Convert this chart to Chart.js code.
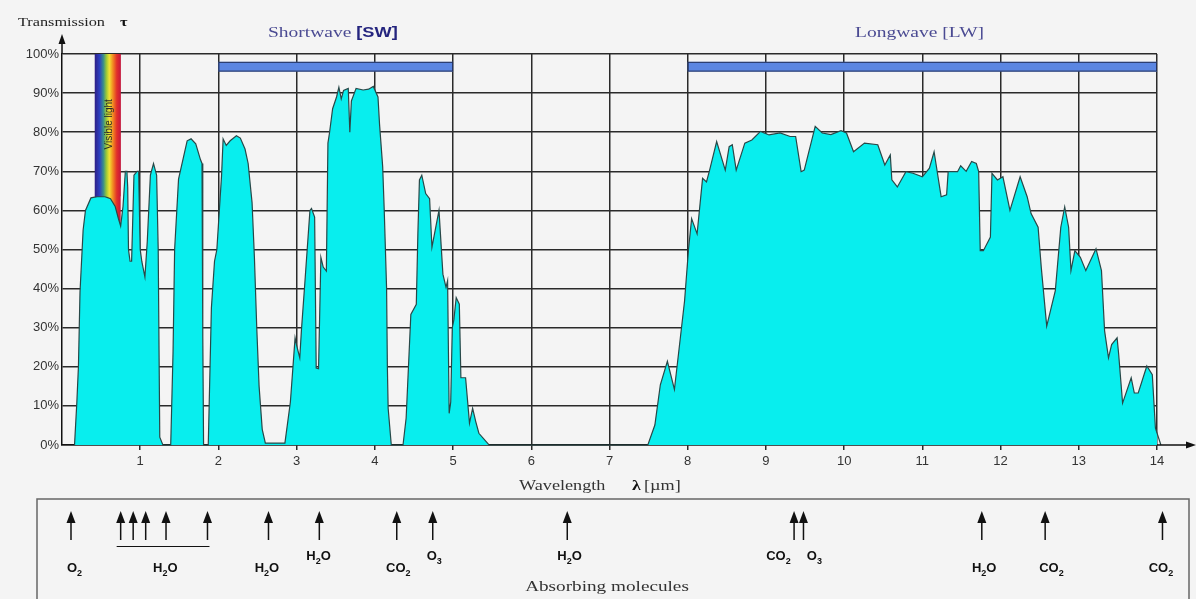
<!DOCTYPE html>
<html>
<head>
<meta charset="utf-8">
<script src="https://cdn.jsdelivr.net/npm/chart.js@4.4.1/dist/chart.umd.min.js"></script>
<style>
    html, body { margin: 0; padding: 0; background: #f4f4f4; }
    #wrap { width: 1196px; height: 599px; }
</style>
</head>
<body>
<div id="wrap"><canvas id="transChart" width="1196" height="599"></canvas></div>
<script>
// --- DADOS ---
const xTickValues = [1, 2, 3, 4, 5, 6, 7, 8, 9, 10, 11, 12, 13, 14];
const yTickValues = [0, 10, 20, 30, 40, 50, 60, 70, 80, 90, 100];

// comprimento de onda (µm) e transmissão (%)
const waveLength = [
    0.16, 0.19, 0.21, 0.23, 0.27, 0.30, 0.37, 0.45, 0.55, 0.62, 0.68, 0.72, 0.75, 0.78, 0.81, 0.83, 0.84, 0.85, 0.87, 0.89,
    0.92, 0.96, 0.98, 1.00, 1.02, 1.04, 1.06, 1.09, 1.13, 1.17, 1.21, 1.23, 1.25, 1.29, 1.39, 1.42, 1.44, 1.49, 1.60, 1.65,
    1.71, 1.77, 1.79, 1.80, 1.81, 1.87, 1.91, 1.95, 1.98, 2.04, 2.06, 2.10, 2.15, 2.23, 2.28, 2.34, 2.38, 2.43, 2.46, 2.49,
    2.52, 2.56, 2.60, 2.85, 2.92, 2.98, 3.00, 3.04, 3.06, 3.11, 3.17, 3.19, 3.23, 3.25, 3.28, 3.31, 3.34, 3.38, 3.40, 3.42,
    3.46, 3.51, 3.54, 3.57, 3.60, 3.66, 3.68, 3.70, 3.76, 3.85, 3.92, 3.98, 4.04, 4.06, 4.10, 4.12, 4.15, 4.16, 4.17, 4.21,
    4.36, 4.40, 4.46, 4.53, 4.55, 4.57, 4.60, 4.65, 4.70, 4.73, 4.82, 4.87, 4.91, 4.93, 4.95, 4.97, 4.99, 5.01, 5.04, 5.08,
    5.10, 5.16, 5.21, 5.25, 5.29, 5.33, 5.46, 7.49, 7.58, 7.65, 7.74, 7.83, 7.96, 8.01, 8.05, 8.12, 8.19, 8.24, 8.28, 8.37,
    8.48, 8.53, 8.57, 8.62, 8.73, 8.82, 8.93, 9.04, 9.18, 9.31, 9.38, 9.45, 9.49, 9.63, 9.72, 9.83, 9.96, 10.03, 10.12, 10.26,
    10.43, 10.52, 10.59, 10.61, 10.68, 10.79, 10.88, 11.00, 11.09, 11.15, 11.24, 11.31, 11.33, 11.45, 11.49, 11.56, 11.63, 11.69, 11.72, 11.74,
    11.78, 11.87, 11.89, 11.96, 12.03, 12.12, 12.25, 12.34, 12.39, 12.48, 12.52, 12.59, 12.70, 12.77, 12.82, 12.87, 12.90, 12.95, 13.02, 13.09,
    13.22, 13.29, 13.33, 13.38, 13.42, 13.49, 13.51, 13.56, 13.67, 13.71, 13.76, 13.87, 13.94, 13.98, 14.05
];
const transmission = [
    0, 11, 20, 39, 55, 60, 63.2, 63.5, 63.5, 63, 61, 58, 56, 61, 70, 70, 66, 50, 47, 47,
    69, 70, 70, 50, 47, 45, 43, 52, 69, 72, 69, 50, 2, 0, 0, 24, 50, 68, 77.8, 78.3,
    77, 73, 72, 28, 0, 0, 35, 47, 50, 68.9, 78.3, 76.6, 77.8, 79.1, 78.5, 75.7, 72, 62, 48, 30,
    15, 4, 0.5, 0.5, 11, 27.4, 25.5, 22.3, 29, 42.9, 60, 60.5, 58.3, 19.7, 19.5, 48, 45.5, 44.5, 77.2, 79.8,
    86, 89, 91.5, 88.5, 90.7, 91.2, 80, 88, 91.2, 90.8, 91, 91.7, 89, 82, 71.2, 60, 40, 20, 9.4, 0,
    0, 6.9, 33.4, 36, 54, 67.8, 69, 64.3, 63, 50.6, 60, 43.7, 40.3, 42, 8.1, 11, 30, 32, 37.7, 36,
    17.2, 17.2, 5.6, 9.4, 6, 3, 0, 0, 5.1, 15.4, 21.4, 14.2, 36.9, 50, 57.9, 54, 68.2, 67.3, 70.3, 77.6,
    70.3, 76.3, 76.8, 70.3, 77.2, 78, 80.2, 79.3, 79.8, 78.9, 78.9, 69.9, 70.3, 81.5, 79.8, 79.4, 80.4, 79.8, 75, 77.2,
    76.8, 71.6, 74.2, 67.8, 66, 69.9, 69.5, 68.6, 70.8, 75, 63.5, 64, 69.9, 69.9, 71.4, 70, 72.5, 72, 69.9, 49.7,
    49.7, 53.2, 69.5, 67.8, 68.6, 60, 68.6, 63.5, 59.2, 55.7, 45.5, 30.4, 39.5, 55.7, 60.9, 55.7, 44.6, 49.7, 48, 44.6,
    50.2, 44.6, 29.2, 22.3, 25.7, 27.4, 23.2, 10.7, 17.2, 13.3, 13.3, 20.2, 18, 4.3, 0
];

// faixas SW / LW
const bandNames = ['Shortwave', 'Longwave'];
const bandTags = ['[SW]', '[LW]'];
const bandStart = [2, 8];
const bandEnd = [5, 14];
const bandLevel = [95.5, 98];

// luz visível
const visibleRange = [0.42, 0.75];

// moléculas absorventes
const arrowWave = [0.115, 0.75, 0.91, 1.07, 1.33, 1.86, 2.64, 3.29, 4.28, 4.74, 6.46, 9.36, 9.48, 11.76, 12.57, 14.07];
const moleculeNames = ['O2', 'H2O', 'H2O', 'H2O', 'CO2', 'O3', 'H2O', 'CO2', 'O3', 'H2O', 'CO2', 'CO2'];
const moleculeWave = [0.16, 1.32, 2.62, 3.28, 4.30, 4.76, 6.49, 9.16, 9.62, 11.79, 12.65, 14.05];

document.addEventListener('DOMContentLoaded', () => {

    const SERIF = '"Liberation Serif", "DejaVu Serif", serif';
    const SANS = '"Liberation Sans", Arial, sans-serif';
    const moleculeRaised = [0, 0, 0, 1, 0, 1, 1, 1, 1, 0, 0, 0];

    // texto esticado na horizontal (o original é mais largo)
    function wideText(ctx, str, x, y, font, color, sx) {
        ctx.save();
        ctx.font = font;
        ctx.fillStyle = color;
        ctx.textBaseline = 'alphabetic';
        ctx.textAlign = 'left';
        ctx.translate(x, y);
        ctx.scale(sx, 1);
        ctx.fillText(str, 0, 0);
        const w = ctx.measureText(str).width * sx;
        ctx.restore();
        return w;
    }

    // fórmula química com índices
    function drawFormula(ctx, text, cx, y) {
        const parts = text.match(/\d|[^\d]+/g);
        const big = 'bold 13px ' + SANS, small = 'bold 9px ' + SANS;
        let total = 0;
        parts.forEach(p => { ctx.font = /\d/.test(p) ? small : big; total += ctx.measureText(p).width; });
        let x = cx - total / 2;
        ctx.fillStyle = '#111';
        ctx.textAlign = 'left';
        ctx.textBaseline = 'alphabetic';
        parts.forEach(p => {
            const isSub = /\d/.test(p);
            ctx.font = isSub ? small : big;
            ctx.fillText(p, x, isSub ? y + 4 : y);
            x += ctx.measureText(p).width;
        });
    }

    function rainbow(ctx, x0, x1, y0, y1) {
        const g = ctx.createLinearGradient(x0, 0, x1, 0);
        g.addColorStop(0, '#2e1f86');
        g.addColorStop(0.18, '#2c3fc0');
        g.addColorStop(0.33, '#3a8f8a');
        g.addColorStop(0.45, '#9cc838');
        g.addColorStop(0.56, '#f2e232');
        g.addColorStop(0.70, '#f18a22');
        g.addColorStop(0.85, '#e2302a');
        g.addColorStop(1, '#c4163c');
        ctx.fillStyle = g;
        ctx.fillRect(x0, y0, x1 - x0, y1 - y0);
    }

    const decorations = {
        id: 'decorations',
        beforeDatasetsDraw(chart) {
            const { ctx, scales: { x, y } } = chart;
            rainbow(ctx, x.getPixelForValue(visibleRange[0]), x.getPixelForValue(visibleRange[1]),
                y.getPixelForValue(100), y.getPixelForValue(54));
        },
        afterDraw(chart) {
            const { ctx, chartArea: a, scales: { x, y } } = chart;
            ctx.save();

            // luz visível por cima da grade
            const vx0 = x.getPixelForValue(visibleRange[0]), vx1 = x.getPixelForValue(visibleRange[1]);
            rainbow(ctx, vx0, vx1, y.getPixelForValue(100), y.getPixelForValue(63.6));
            ctx.save();
            ctx.translate((vx0 + vx1) / 2 + 1, y.getPixelForValue(82));
            ctx.rotate(-Math.PI / 2);
            ctx.font = '10px ' + SANS;
            ctx.fillStyle = '#2a2a2a';
            ctx.textAlign = 'center';
            ctx.textBaseline = 'middle';
            ctx.fillText('Visible light', 0, 0);
            ctx.restore();

            // barras SW / LW
            bandStart.forEach((s, i) => {
                const bx0 = x.getPixelForValue(s), bx1 = x.getPixelForValue(bandEnd[i]);
                const by0 = y.getPixelForValue(bandLevel[1]), by1 = y.getPixelForValue(bandLevel[0]);
                ctx.fillStyle = '#5b86e2';
                ctx.fillRect(bx0, by0, bx1 - bx0, by1 - by0);
                ctx.strokeStyle = '#23305a';
                ctx.lineWidth = 1;
                ctx.strokeRect(bx0 + 0.5, by0 + 0.5, bx1 - bx0 - 1, by1 - by0 - 1);
            });
            let w = wideText(ctx, bandNames[0] + ' ', 268, 37, '15px ' + SERIF, '#4a4a92', 1.3);
            wideText(ctx, bandTags[0], 268 + w, 37, 'bold 14px ' + SANS, '#24247e', 1.3);
            wideText(ctx, bandNames[1] + ' ' + bandTags[1], 855, 37, '15px ' + SERIF, '#4a4a92', 1.3);

            // setas dos eixos
            ctx.strokeStyle = '#111';
            ctx.fillStyle = '#111';
            ctx.lineWidth = 1.5;
            ctx.beginPath();
            ctx.moveTo(a.left, a.top);
            ctx.lineTo(a.left, 42);
            ctx.moveTo(a.right, a.bottom);
            ctx.lineTo(1188, a.bottom);
            ctx.stroke();
            ctx.beginPath();
            ctx.moveTo(a.left, 34); ctx.lineTo(a.left - 3.5, 44); ctx.lineTo(a.left + 3.5, 44); ctx.closePath();
            ctx.fill();
            ctx.beginPath();
            ctx.moveTo(1196, a.bottom); ctx.lineTo(1186, a.bottom - 3.5); ctx.lineTo(1186, a.bottom + 3.5); ctx.closePath();
            ctx.fill();

            // títulos dos eixos
            wideText(ctx, 'Transmission', 18, 26, '13px ' + SERIF, '#222', 1.25);
            wideText(ctx, 'τ', 120, 26, 'bold 13px ' + SERIF, '#111', 1.25);
            wideText(ctx, 'Wavelength', 519, 490, '14px ' + SERIF, '#333', 1.3);
            wideText(ctx, 'λ', 632, 490, 'bold 15px ' + SERIF, '#111', 1.2);
            wideText(ctx, '[µm]', 644, 490, '14px ' + SERIF, '#333', 1.3);

            // painel das moléculas absorventes
            ctx.strokeStyle = '#666';
            ctx.lineWidth = 1.5;
            ctx.strokeRect(37, 499, 1189 - 37, 120);

            ctx.strokeStyle = '#111';
            ctx.fillStyle = '#111';
            arrowWave.forEach(v => {
                const px = x.getPixelForValue(v);
                ctx.lineWidth = 1.5;
                ctx.beginPath();
                ctx.moveTo(px, 520);
                ctx.lineTo(px, 540);
                ctx.stroke();
                ctx.beginPath();
                ctx.moveTo(px, 511); ctx.lineTo(px - 4.5, 523); ctx.lineTo(px + 4.5, 523); ctx.closePath();
                ctx.fill();
            });
            // traço sob o grupo de H2O
            ctx.lineWidth = 1;
            ctx.beginPath();
            ctx.moveTo(x.getPixelForValue(arrowWave[1]) - 4, 546.5);
            ctx.lineTo(x.getPixelForValue(arrowWave[5]) + 2, 546.5);
            ctx.stroke();

            moleculeNames.forEach((m, i) => {
                drawFormula(ctx, m, x.getPixelForValue(moleculeWave[i]), moleculeRaised[i] ? 560 : 572);
            });

            ctx.save();
            ctx.font = '15px ' + SERIF;
            const aw = ctx.measureText('Absorbing molecules').width * 1.28;
            ctx.restore();
            wideText(ctx, 'Absorbing molecules', 607 - aw / 2, 591, '15px ' + SERIF, '#333', 1.28);

            ctx.restore();
        }
    };

    function createTransmissionChart() {
        const ctx = document.getElementById('transChart')?.getContext('2d');
        if (!ctx) return;

        const points = waveLength.map((w, i) => ({ x: w, y: transmission[i] }));

        new Chart(ctx, {
            type: 'line',
            data: {
                datasets: [{
                    data: points,
                    fill: 'origin',
                    backgroundColor: '#08eeee',
                    borderColor: '#284848',
                    borderWidth: 1.2,
                    pointRadius: 0,
                    tension: 0,
                    clip: false
                }]
            },
            options: {
                responsive: false,
                animation: false,
                events: [],
                layout: { padding: { left: 0, right: 39, top: 54, bottom: 134 } },
                plugins: { legend: { display: false }, tooltip: { enabled: false } },
                scales: {
                    x: {
                        type: 'linear', min: 0, max: 14, z: 1,
                        afterBuildTicks: s => { s.ticks = xTickValues.map(v => ({ value: v })); },
                        afterFit: s => { s.height = 20; },
                        grid: { color: '#2a2a2a', lineWidth: 1.5, tickLength: 5 },
                        border: { color: '#111', width: 1.5 },
                        ticks: { color: '#333', font: { family: SANS, size: 13 }, padding: 4, maxRotation: 0, autoSkip: false }
                    },
                    y: {
                        min: 0, max: 100, z: 1,
                        afterBuildTicks: s => { s.ticks = yTickValues.map(v => ({ value: v })); },
                        afterFit: s => { s.width = 62; },
                        grid: { color: '#2a2a2a', lineWidth: 1.5, drawTicks: false },
                        border: { color: '#111', width: 1.5 },
                        ticks: { color: '#333', font: { family: SANS, size: 13 }, padding: 3, callback: v => v + '%' }
                    }
                }
            },
            plugins: [decorations]
        });
    }

    createTransmissionChart();
});
</script>
</body>
</html>
